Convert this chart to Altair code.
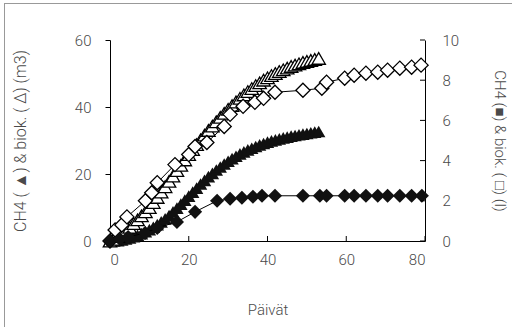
import altair as alt
import pandas as pd

# ---- data ----
tri_days = list(range(0, 54))
biogas_m3 = [0, 0.5, 1.3, 2.2, 3.1, 4.1, 5.2, 6.3, 7.5, 8.7, 10.0, 11.5, 13.0, 14.6, 16.2,
             17.8, 19.4, 21.0, 22.6, 24.2, 25.8, 27.3, 28.8, 30.2, 31.6, 33.0, 34.3, 35.6,
             36.9, 38.1, 39.3, 40.4, 41.5, 42.6, 43.6, 44.6, 45.5, 46.4, 47.2, 48.0, 48.7,
             49.4, 50.0, 50.6, 51.1, 51.6, 52.1, 52.5, 52.9, 53.3, 53.6, 53.9, 54.2, 54.5]
ch4_m3 = [0, 0, 0.1, 0.3, 0.6, 0.9, 1.3, 1.7, 2.2, 2.8, 3.4, 4.1, 4.9, 5.7, 6.6, 7.6, 8.7,
          9.8, 11.0, 12.2, 13.4, 14.6, 15.8, 17.0, 18.1, 19.2, 20.2, 21.2, 22.1, 23.0, 23.8,
          24.6, 25.3, 26.0, 26.6, 27.2, 27.7, 28.2, 28.7, 29.1, 29.5, 29.9, 30.2, 30.5, 30.8,
          31.0, 31.3, 31.5, 31.7, 31.9, 32.1, 32.3, 32.5, 32.7]

biog_l_days = [0, 1.3, 3, 4.3, 9, 10.6, 12, 16.5, 20, 21.6, 24.6, 29, 30.5, 33.8, 36.8, 39,
               41.9, 49, 53.8, 55, 59.6, 62, 65, 68, 70.5, 73.6, 76.6, 79]
biog_l = [0, 0.55, 0.8, 1.2, 2.0, 2.4, 2.9, 3.8, 4.3, 4.7, 4.9, 5.7, 6.3, 6.7, 6.9, 7.1,
          7.4, 7.5, 7.6, 7.9, 8.1, 8.25, 8.35, 8.4, 8.5, 8.6, 8.65, 8.75]

ch4_l_days = [0, 2.5, 4.6, 8.9, 12, 17, 21.6, 27.2, 30.5, 33.5, 36.3, 38.6, 41.9, 49, 53.3,
              55, 59.6, 62, 65, 68, 70.5, 73.6, 76.6, 79.2]
ch4_l = [0, 0.1, 0.2, 0.4, 0.65, 0.95, 1.45, 2.0, 2.1, 2.15, 2.2, 2.25, 2.25, 2.25, 2.25,
         2.25, 2.25, 2.25, 2.25, 2.25, 2.25, 2.25, 2.25, 2.25]

x_ticks = [0, 20, 40, 60, 80]
left_ticks = [0, 10, 20, 30, 40, 50, 60]
right_ticks = [0, 2, 4, 6, 8, 10]

W, H = 315, 201
FONT = "Roboto"
GREY = "#4a4a4a"

tri = pd.DataFrame({"d": tri_days, "bio": biogas_m3, "ch4": ch4_m3})
dia_b = pd.DataFrame({"d": biog_l_days, "v": biog_l})
dia_c = pd.DataFrame({"d": ch4_l_days, "v": ch4_l})

xs = alt.Scale(domain=[0, 80])
ysl = alt.Scale(domain=[0, 60])
ysr = alt.Scale(domain=[0, 10])

xax = alt.Axis(values=x_ticks, ticks=False, grid=False, domainColor="black",
               labelPadding=11, title="Päivät", titlePadding=35)

left_axis = alt.Axis(values=left_ticks, grid=False, tickSize=5, tickColor="black",
                     domainColor="black", labelPadding=14,
                     title="CH4 ( ▲) & biok. ( ∆) (m3)", titlePadding=46,
                     titleFontSize=16)
right_axis = alt.Axis(values=right_ticks, grid=False, ticks=False, orient="right",
                      domainColor="black", labelPadding=17,
                      title="CH4 (■) & biok. ( □) (l)", titlePadding=33)

X = alt.X("d:Q", scale=xs, axis=xax)

base_l = alt.Chart(tri)
ch4_line = base_l.mark_line(color="black", strokeWidth=1).encode(
    x=X, y=alt.Y("ch4:Q", scale=ysl, axis=left_axis))
ch4_pts = base_l.mark_point(shape="triangle-up", filled=True, color="#111111",
                            size=180, opacity=1).encode(x=X, y=alt.Y("ch4:Q", scale=ysl))
bio_line = base_l.mark_line(color="black", strokeWidth=1).encode(
    x=X, y=alt.Y("bio:Q", scale=ysl))
bio_pts = base_l.mark_point(shape="triangle-up", filled=True, fill="white", stroke="black",
                            strokeWidth=1.3, size=180, opacity=1).encode(
    x=X, y=alt.Y("bio:Q", scale=ysl))

left_ticks_df = pd.DataFrame({"d": x_ticks})
xtick_rules = alt.Chart(left_ticks_df).mark_rule(color="black").encode(
    x=alt.X("d:Q", scale=xs), y=alt.value(H), y2=alt.value(H - 5))

left_layer = alt.layer(ch4_line, ch4_pts, bio_line, bio_pts, xtick_rules)

bl_line = alt.Chart(dia_b).mark_line(color="black", strokeWidth=1).encode(
    x=X, y=alt.Y("v:Q", scale=ysr, axis=right_axis))
bl_pts = alt.Chart(dia_b).mark_point(shape="diamond", filled=True, fill="white",
                                     stroke="black", strokeWidth=1.3, size=200,
                                     opacity=1).encode(x=X, y=alt.Y("v:Q", scale=ysr))
cl_line = alt.Chart(dia_c).mark_line(color="black", strokeWidth=1).encode(
    x=X, y=alt.Y("v:Q", scale=ysr))
cl_pts = alt.Chart(dia_c).mark_point(shape="diamond", filled=True, color="#111111",
                                     size=200, opacity=1).encode(
    x=X, y=alt.Y("v:Q", scale=ysr))
rt_df = pd.DataFrame({"v": right_ticks})
rtick_rules = alt.Chart(rt_df).mark_rule(color="black").encode(
    y=alt.Y("v:Q", scale=ysr), x=alt.value(W - 5), x2=alt.value(W))

right_layer = alt.layer(bl_line, bl_pts, cl_line, cl_pts, rtick_rules)

# frame lines (decoration)
frame_df = pd.DataFrame({"k": [0]})
frame_left = alt.Chart(frame_df).mark_rule(color="#999999", strokeWidth=1).encode(
    x=alt.value(-105.5), y=alt.value(-37), y2=alt.value(300))
frame_top = alt.Chart(frame_df).mark_rule(color="#999999", strokeWidth=1).encode(
    y=alt.value(-36.5), x=alt.value(-106), x2=alt.value(420))

chart = alt.layer(left_layer, right_layer, frame_left, frame_top).resolve_scale(
    y="independent"
).properties(
    width=W, height=H,
    autosize=alt.AutoSizeParams(type="none"),
    padding={"left": 110, "top": 40, "right": 87, "bottom": 86},
).configure_view(stroke=None).configure_axis(
    labelFont=FONT, titleFont=FONT, labelFontSize=15, titleFontSize=15,
    labelColor=GREY, titleColor=GREY, labelFontWeight=300, titleFontWeight=300,
    domainWidth=1,
)

chart.save("out.html", embed_options={"renderer": "svg", "actions": False})
